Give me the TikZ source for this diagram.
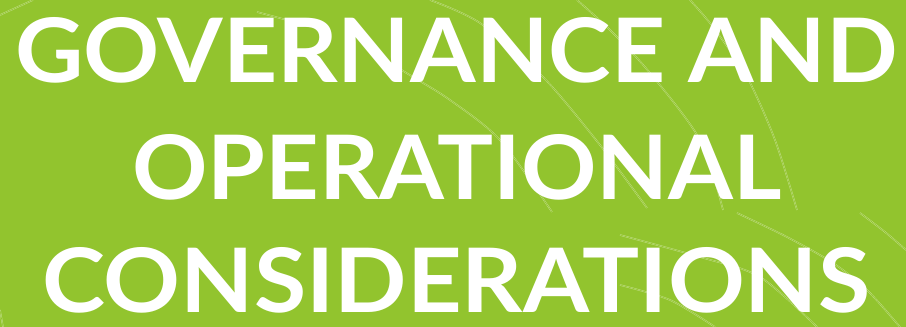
\documentclass[tikz,border=0pt]{standalone}
\usepackage{fontspec}
\setmainfont{Lato}
\usepackage{graphicx}
\definecolor{leafgreen}{RGB}{146,196,46}
\definecolor{strandpale}{RGB}{196,224,140}
\begin{document}
\begin{tikzpicture}[x=1pt,y=1pt,inner sep=0pt,outer sep=0pt,
titleline/.style={anchor=base west,text=white,font=\bfseries},
strand/.style={draw=strandpale,line width=0.45pt,double=leafgreen,double distance=0.6pt}]
\fill[leafgreen] (0,0) rectangle (906,327);
\useasboundingbox (0,0) rectangle (906,327);
% faint grass strands behind the title
\draw[strand] plot[smooth] coordinates {(577,327) (610,297) (650,254) (700,187) (723,117)};
\draw[strand] plot[smooth] coordinates {(690,327) (713,300) (747,250) (775,187) (797,117)};
\draw[strand] plot[smooth] coordinates {(430,327) (480,304) (543,250) (600,182) (647,119)};
\draw[strand] plot[smooth] coordinates {(380,270) (413,250) (450,227) (500,187) (552,115)};
\draw[strand] plot[smooth] coordinates {(737,114) (787,90) (833,64) (867,37) (900,0)};
\draw[strand] plot[smooth] coordinates {(860,114) (885,95) (906,77)};
\draw[strand] plot[smooth] coordinates {(620,92) (700,70) (760,50) (817,0)};
\draw[strand] plot[smooth] coordinates {(620,42) (670,27) (715,0)};
\draw[strand] (0,312) -- (33,327);
\draw[strand] (257,315) -- (287,307);
\draw[strand] (0,17) -- (3,0);
% title
\node[titleline] (gov) at (15,244) {\resizebox{883pt}{65pt}{GOVERNANCE AND}};
\node[titleline] (ops) at (132,127) {\resizebox{650pt}{65pt}{OPERATIONAL}};
\node[titleline] (con) at (42,14) {\resizebox{828pt}{65pt}{CONSIDERATIONS}};
\end{tikzpicture}
\end{document}
